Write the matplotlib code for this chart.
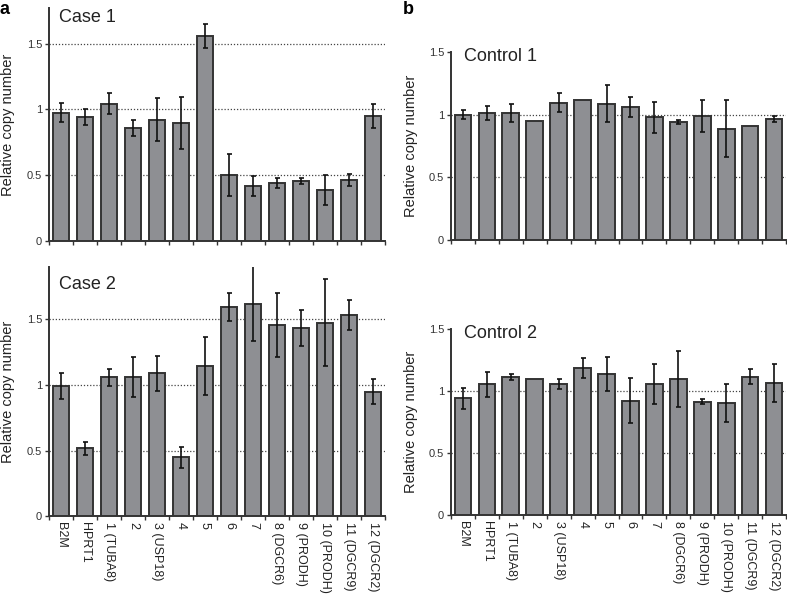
'''
  Relative copy number of 22q11 amplicons, cases vs controls.
'''
import matplotlib
matplotlib.use("Agg")
import matplotlib.pyplot as plt
import numpy as np

labels = ["B2M", "HPRT1", "1 (TUBA8)", "2", "3 (USP18)", "4", "5", "6", "7",
          "8 (DGCR6)", "9 (PRODH)", "10 (PRODH)", "11 (DGCR9)", "12 (DGCR2)"]

case1 = [0.975, 0.942, 1.041, 0.861, 0.922, 0.897, 1.558, 0.502, 0.42, 0.443, 0.456, 0.385, 0.464, 0.95]
case1_err = [0.07, 0.06, 0.08, 0.06, 0.165, 0.195, 0.09, 0.16, 0.075, 0.038, 0.025, 0.115, 0.047, 0.09]

case2 = [0.992, 0.518, 1.058, 1.063, 1.089, 0.45, 1.145, 1.594, 1.619, 1.459, 1.431, 1.475, 1.53, 0.947]
case2_err = [0.098, 0.047, 0.065, 0.153, 0.135, 0.08, 0.218, 0.108, 0.285, 0.244, 0.137, 0.33, 0.115, 0.095]

control1 = [1.0, 1.011, 1.013, 0.952, 1.098, 1.117, 1.088, 1.066, 0.979, 0.944, 0.992, 0.891, 0.912, 0.968]
control1_err = [0.036, 0.056, 0.07, 0.0, 0.078, 0.0, 0.148, 0.08, 0.122, 0.018, 0.125, 0.23, 0.0, 0.022]

control2 = [0.941, 1.054, 1.113, 1.097, 1.059, 1.183, 1.134, 0.922, 1.056, 1.094, 0.914, 0.903, 1.116, 1.062]
control2_err = [0.086, 0.1, 0.026, 0.0, 0.039, 0.08, 0.138, 0.18, 0.158, 0.225, 0.018, 0.155, 0.058, 0.152]

BAR = "#8e8f93"
EDGE = "#333333"

fig = plt.figure(figsize=(7.87, 5.95), dpi=100)
plt.rcParams['font.family'] = ['Liberation Sans', 'DejaVu Sans']


def panel(rect, vals, errs, ymax, name, name_pos, xlabels):
    ax = fig.add_axes(rect)
    x = np.arange(len(vals))
    errs = np.array(errs)
    ax.bar(x, vals, width=0.7, color=BAR, edgecolor=EDGE, linewidth=1.4, zorder=3)
    m = errs > 0
    ax.errorbar(x[m], np.array(vals)[m], yerr=errs[m], fmt='none', ecolor="#111111",
                elinewidth=1.2, capsize=1.8, capthick=1.2, zorder=4)
    ax.set_xlim(-0.5, len(vals) - 0.5)
    ax.set_ylim(0, ymax)
    yticks = [0, 0.5, 1, 1.5]
    for t in yticks[1:]:
        if t < ymax:
            ax.axhline(t, color="#444444", linestyle=(0, (1, 1.5)), linewidth=0.9, zorder=1)
    ax.set_yticks(yticks)
    ax.set_yticklabels([("%g" % t) for t in yticks], fontsize=8, color="#333333")
    ax.set_xticks(np.arange(len(vals) + 1) - 0.5)
    ax.set_xticklabels([])
    ax.tick_params(axis='x', length=3, width=1, color=EDGE)
    ax.tick_params(axis='y', length=3, width=1, color=EDGE, pad=2)
    if xlabels:
        ax.set_xticks(x, minor=True)
        ax.set_xticklabels(labels, minor=True, rotation=-90, fontsize=9, color="#222222",
                           va='top', ha='center')
        ax.tick_params(axis='x', which='minor', length=0, pad=4)
    for s in ["top", "right"]:
        ax.spines[s].set_visible(False)
    for s in ["left", "bottom"]:
        ax.spines[s].set_color(EDGE)
        ax.spines[s].set_linewidth(1.4)
    ax.set_ylabel("Relative copy number", fontsize=10.5, color="#222222")
    ax.text(name_pos[0], name_pos[1], name, transform=ax.transAxes, fontsize=13,
            va='center', ha='left', color="#222222")
    return ax


W, H = 787.0, 595.0
a1 = panel([49 / W, 1 - 241 / H, 336 / W, 233 / H], case1, case1_err, 1.77, "Case 1",
           (0.03, 0.961), False)
a2 = panel([49 / W, 1 - 516.4 / H, 336 / W, 249.7 / H], case2, case2_err, 1.9, "Case 2",
           (0.03, 0.93), True)
b1 = panel([451 / W, 1 - 240 / H, 335 / W, 187.7 / H], control1, control1_err, 1.5, "Control 1",
           (0.04, 0.975), False)
b2 = panel([451 / W, 1 - 515 / H, 335 / W, 186 / H], control2, control2_err, 1.5, "Control 2",
           (0.04, 0.975), True)

for ax in (a1, a2, b1, b2):
    ax.yaxis.set_label_coords(-0.1, 0.5)

fig.text(0.0, 1 - 9 / H, "a", fontsize=13, fontweight='bold', va='center', ha='left')
fig.text(403 / W, 1 - 9 / H, "b", fontsize=13, fontweight='bold', va='center', ha='left')

fig.savefig("out.png", dpi=100)
